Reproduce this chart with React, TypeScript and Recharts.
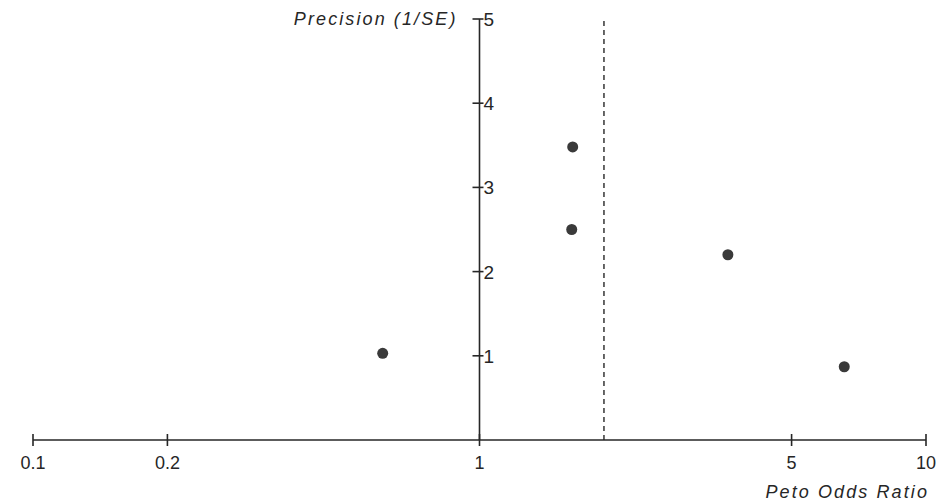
import { ReferenceDot, ReferenceLine, Scatter, ScatterChart, XAxis, YAxis } from "recharts";

// study estimates
const oddsRatios = [0.607, 1.617, 1.609, 3.6, 6.56];
const precisions = [1.03, 3.48, 2.5, 2.2, 0.87];

const xTicks = [0.1, 0.2, 1, 5, 10];
const xTickLabels = ["0.1", "0.2", "1", "5", "10"];
const yTicks = [1, 2, 3, 4, 5];

const pooledOR = 1.9;
const nullOR = 1;

const xTitle = "Peto Odds Ratio";
const yTitle = "Precision (1/SE)";

const FONT = '"Liberation Sans", Arial, sans-serif';
const INK = "#262626";

const data = oddsRatios.map((or, i) => ({ or, prec: precisions[i] }));

function XTick(props: any) {
  const { x, y, payload } = props;
  const idx = xTicks.indexOf(payload.value);
  return (
    <g>
      <line x1={x} x2={x} y1={y - 6} y2={y + 6} stroke={INK} strokeWidth={1.6} />
      <text
        x={x}
        y={y + 29}
        textAnchor="middle"
        fontFamily={FONT}
        fontSize={18}
        fill={INK}
      >
        {idx >= 0 ? xTickLabels[idx] : payload.value}
      </text>
    </g>
  );
}

function YTick({ cx, cy, value }: { cx?: number; cy?: number; value: number }) {
  if (cx == null || cy == null) return null;
  return (
    <g>
      <line x1={cx - 7} x2={cx + 4} y1={cy} y2={cy} stroke={INK} strokeWidth={1.6} />
      <text x={cx + 4} y={cy + 7} fontFamily={FONT} fontSize={19} fill={INK}>
        {value}
      </text>
    </g>
  );
}

function YTitle({ cx, cy }: { cx?: number; cy?: number }) {
  if (cx == null || cy == null) return null;
  return (
    <text
      x={cx - 22}
      y={cy + 6}
      textAnchor="end"
      fontFamily={FONT}
      fontSize={18}
      fontStyle="italic"
      letterSpacing={2.1}
      fill={INK}
    >
      {yTitle}
    </text>
  );
}

function XTitle(props: any) {
  const { viewBox } = props;
  return (
    <text
      x={viewBox.x + viewBox.width + 3}
      y={viewBox.y + 58}
      textAnchor="end"
      fontFamily={FONT}
      fontSize={18}
      fontStyle="italic"
      letterSpacing={2.1}
      fill={INK}
    >
      {xTitle}
    </text>
  );
}

export default function App() {
  return (
    <div style={{ position: "absolute", left: 0, top: 0, background: "#fff" }}>
      <ScatterChart width={946} height={504} margin={{ top: 19, right: 20, bottom: 0, left: 33 }}>
        <XAxis
          type="number"
          dataKey="or"
          scale="log"
          domain={[0.1, 10]}
          ticks={xTicks}
          allowDataOverflow
          height={64}
          tickSize={0}
          tickMargin={0}
          tickLine={false}
          axisLine={{ stroke: INK, strokeWidth: 1.6 }}
          tick={<XTick />}
          label={<XTitle />}
        />
        <YAxis type="number" dataKey="prec" domain={[0, 5]} hide />
        <ReferenceLine x={nullOR} stroke={INK} strokeWidth={1.6} />
        <ReferenceLine x={pooledOR} stroke={INK} strokeWidth={1.4} strokeDasharray="5 4" />
        {yTicks.map((t) => (
          <ReferenceDot
            key={t}
            x={nullOR}
            y={t}
            shape={(p: any) => <YTick cx={p.cx} cy={p.cy} value={t} />}
          />
        ))}
        <ReferenceDot x={nullOR} y={5} shape={(p: any) => <YTitle cx={p.cx} cy={p.cy} />} />
        <Scatter
          data={data}
          isAnimationActive={false}
          shape={(p: any) => <circle cx={p.cx} cy={p.cy} r={5.5} fill="#3a3a3a" />}
        />
      </ScatterChart>
    </div>
  );
}
